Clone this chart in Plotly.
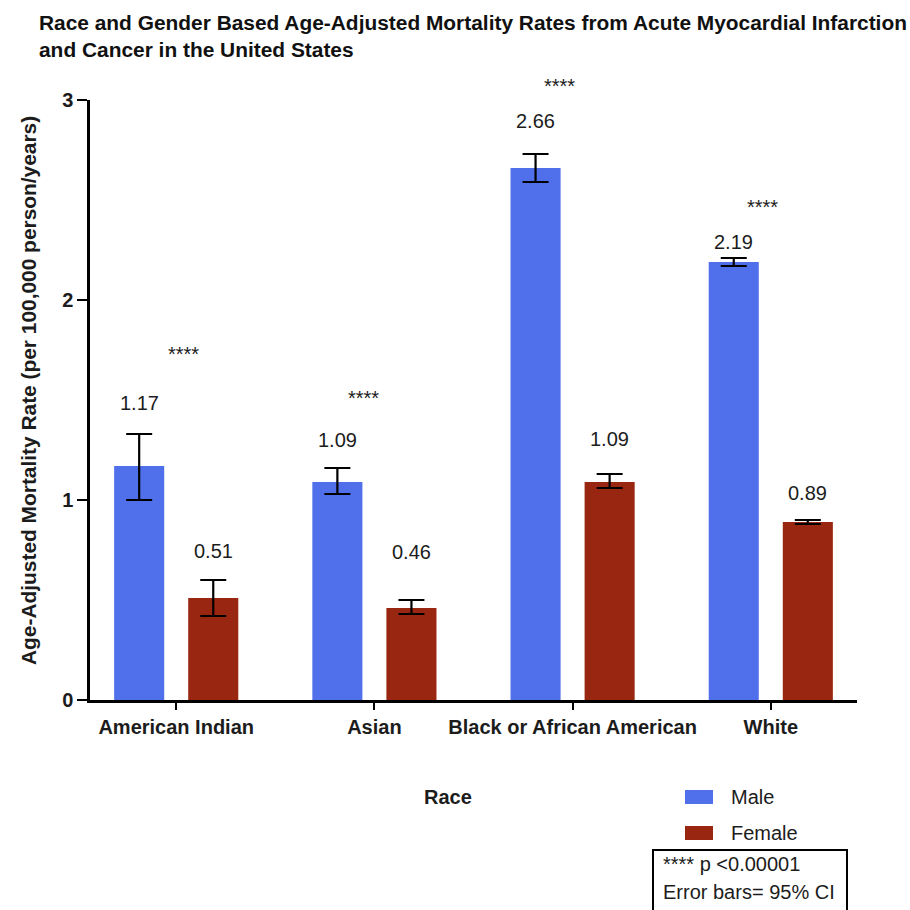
import plotly.graph_objects as go

# ---------------- data ----------------
races = ["American Indian", "Asian", "Black or African American", "White"]
male = [1.17, 1.09, 2.66, 2.19]
female = [0.51, 0.46, 1.09, 0.89]
male_ci_low = [1.00, 1.03, 2.59, 2.17]
male_ci_high = [1.33, 1.16, 2.73, 2.21]
female_ci_low = [0.42, 0.43, 1.06, 0.88]
female_ci_high = [0.60, 0.50, 1.13, 0.90]
male_labels = ["1.17", "1.09", "2.66", "2.19"]
female_labels = ["0.51", "0.46", "1.09", "0.89"]
sig_labels = ["****", "****", "****", "****"]
y_ticks = [0, 1, 2, 3]
Y_MAX = 3

# ---------------- placement / style ----------------
male_label_y = [1.485, 1.30, 2.895, 2.29]
female_label_y = [0.745, 0.74, 1.305, 1.035]
sig_y = [1.73, 1.51, 3.07, 2.465]
sig_xshift = [7, -11, -13, -8]

BLUE = "#5070EB"
RED = "#982611"
FONT = "Liberation Sans, Arial, sans-serif"
TXT = "#1c1c1c"

W, H = 910, 910
PL, PR, PT, PB = 90, 857, 100, 700


def px(x):
    return (x - PL) / (PR - PL)


def py(y):
    return (PB - y) / (PB - PT)


fig = go.Figure()
fig.add_trace(go.Bar(
    x=races, y=male, name="Male", marker=dict(color=BLUE, line=dict(width=0)),
    error_y=dict(type="data", symmetric=False,
                 array=[h - v for h, v in zip(male_ci_high, male)],
                 arrayminus=[v - l for v, l in zip(male, male_ci_low)],
                 color="black", thickness=2.2, width=13),
))
fig.add_trace(go.Bar(
    x=races, y=female, name="Female", marker=dict(color=RED, line=dict(width=0)),
    error_y=dict(type="data", symmetric=False,
                 array=[h - v for h, v in zip(female_ci_high, female)],
                 arrayminus=[v - l for v, l in zip(female, female_ci_low)],
                 color="black", thickness=2.2, width=13),
))

annotations = []
for i, r in enumerate(races):
    annotations.append(dict(x=r, y=male_label_y[i], xref="x", yref="y", text=male_labels[i],
                            showarrow=False, xshift=-37, yanchor="middle",
                            font=dict(family=FONT, size=20, color=TXT)))
    annotations.append(dict(x=r, y=female_label_y[i], xref="x", yref="y", text=female_labels[i],
                            showarrow=False, xshift=37, yanchor="middle",
                            font=dict(family=FONT, size=20, color=TXT)))
    annotations.append(dict(x=r, y=sig_y[i] / Y_MAX, xref="x", yref="y domain", text=sig_labels[i],
                            showarrow=False, xshift=sig_xshift[i], yanchor="middle",
                            font=dict(family=FONT, size=20, color=TXT)))

# title
annotations.append(dict(x=px(37), y=py(9), xref="paper", yref="paper", xanchor="left", yanchor="top",
                        align="left", showarrow=False,
                        text="Race and Gender Based Age-Adjusted Mortality Rates from Acute Myocardial Infarction<br>and Cancer in the United States",
                        font=dict(family=FONT, size=20.9, color="#111111", weight="bold")))
# y-axis title
annotations.append(dict(x=px(28), y=py(391), xref="paper", yref="paper", xanchor="center", yanchor="middle",
                        textangle=-90, showarrow=False,
                        text="Age-Adjusted Mortality Rate (per 100,000 person/years)",
                        font=dict(family=FONT, size=20.9, color=TXT, weight="bold")))
# x-axis title
annotations.append(dict(x=px(448), y=py(797), xref="paper", yref="paper", text="Race",
                        xanchor="center", yanchor="middle", showarrow=False,
                        font=dict(family=FONT, size=20, color=TXT, weight="bold")))
# legend texts
annotations.append(dict(x=px(729), y=py(797), xref="paper", yref="paper", text="Male",
                        xanchor="left", yanchor="middle", showarrow=False,
                        font=dict(family=FONT, size=20, color=TXT)))
annotations.append(dict(x=px(729), y=py(833), xref="paper", yref="paper", text="Female",
                        xanchor="left", yanchor="middle", showarrow=False,
                        font=dict(family=FONT, size=20, color=TXT)))
# note box texts
annotations.append(dict(x=px(661), y=py(864), xref="paper", yref="paper", text="**** p <0.00001",
                        xanchor="left", yanchor="middle", showarrow=False,
                        font=dict(family=FONT, size=20, color=TXT)))
annotations.append(dict(x=px(661), y=py(892), xref="paper", yref="paper", text="Error bars= 95% CI",
                        xanchor="left", yanchor="middle", showarrow=False,
                        font=dict(family=FONT, size=20, color=TXT)))

shapes = [
    dict(type="rect", xref="paper", yref="paper", x0=px(685), x1=px(713), y0=py(790), y1=py(804),
         fillcolor=BLUE, line=dict(width=0)),
    dict(type="rect", xref="paper", yref="paper", x0=px(685), x1=px(713), y0=py(826), y1=py(840),
         fillcolor=RED, line=dict(width=0)),
    dict(type="rect", xref="paper", yref="paper", x0=px(653), x1=px(847), y0=py(850), y1=py(918),
         fillcolor="rgba(0,0,0,0)", line=dict(color="black", width=2)),
]

fig.update_layout(
    width=W, height=H,
    margin=dict(l=PL, r=W - PR, t=PT, b=H - PB, pad=0),
    paper_bgcolor="white", plot_bgcolor="white",
    barmode="group", bargap=0.2525, bargroupgap=0.324,
    showlegend=False,
    xaxis=dict(type="category", range=[-0.435, 3.435], showline=True, linecolor="black", linewidth=2.5,
               ticks="outside", ticklen=7, tickwidth=2, tickcolor="black", showgrid=False, zeroline=False,
               tickfont=dict(family=FONT, size=20, color=TXT, weight="bold")),
    yaxis=dict(range=[0, Y_MAX], tickvals=y_ticks, showline=True, linecolor="black", linewidth=2.5,
               ticks="outside", ticklen=10, tickwidth=2, tickcolor="black", showgrid=False, zeroline=False,
               tickfont=dict(family=FONT, size=20, color=TXT, weight="bold")),
    annotations=annotations,
    shapes=shapes,
)

fig.write_html("out.html", config={"displayModeBar": False},
               post_script="document.body.style.margin='0';")
